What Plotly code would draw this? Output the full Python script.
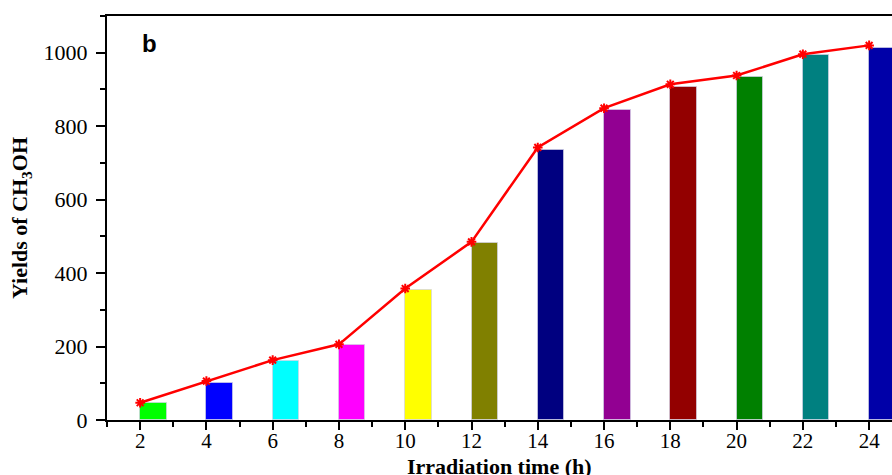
import plotly.graph_objects as go

hours = [2, 4, 6, 8, 10, 12, 14, 16, 18, 20, 22, 24]
bar_yield = [45, 102, 160, 204, 353, 482, 736, 844, 908, 933, 994, 1014]
line_yield = [47, 106, 163, 206, 358, 485, 742, 849, 914, 938, 996, 1020]
bar_colors = ["#00ff00", "#0000ff", "#00ffff", "#ff00ff", "#ffff00", "#808000",
              "#000080", "#920092", "#930000", "#008000", "#008080", "#0000a8"]
y_ticks = [0, 200, 400, 600, 800, 1000]
x_ticks = hours

serif = "Liberation Serif, Times New Roman, serif"

fig = go.Figure()
fig.add_trace(go.Bar(
    x=hours, y=bar_yield, width=0.8, offset=0,
    marker=dict(color=bar_colors, line=dict(color="rgba(210,210,230,0.7)", width=1)),
    showlegend=False,
))
fig.add_trace(go.Scatter(
    x=hours, y=line_yield, mode="lines+markers",
    line=dict(color="#ff0000", width=2.5),
    marker=dict(symbol="asterisk-open", size=8, color="#ff0000",
                line=dict(color="#ff0000", width=2)),
    showlegend=False, cliponaxis=False,
))

fig.update_layout(
    width=892, height=475,
    margin=dict(l=107, r=0, t=16, b=55, autoexpand=False),
    plot_bgcolor="white", paper_bgcolor="white",
    bargap=0,
    annotations=[
        dict(text="<b>b</b>", x=0.042, y=0.933, xref="paper", yref="paper",
             xanchor="left", yanchor="middle", showarrow=False,
             font=dict(family="Liberation Sans, Arial", size=24, color="black")),
        dict(text="<b>Irradiation time (h)</b>", x=0.5, y=-0.079, xref="paper", yref="paper",
             xanchor="center", yanchor="top", showarrow=False,
             font=dict(family=serif, size=22, color="black")),
    ],
)
fig.update_xaxes(
    range=[1.0, 24.69], tickvals=x_ticks, ticktext=[str(v) for v in x_ticks],
    showline=True, linecolor="black", linewidth=2, mirror=True,
    ticks="outside", ticklen=8, tickwidth=2, tickcolor="black",
    minor=dict(dtick=1, tick0=1, ticks="outside", ticklen=5, tickwidth=2, tickcolor="black"),
    showgrid=False, zeroline=False, automargin=False, ticklabelstandoff=-7,
    tickfont=dict(family=serif, size=21, color="black"),
)
fig.update_yaxes(
    range=[0, 1100], tickvals=y_ticks, ticktext=[str(v) for v in y_ticks],
    showline=True, linecolor="black", linewidth=2,
    ticks="outside", ticklen=9, tickwidth=2, tickcolor="black",
    minor=dict(dtick=100, ticks="outside", ticklen=5, tickwidth=2, tickcolor="black"),
    showgrid=False, zeroline=False, automargin=False, ticklabelstandoff=4,
    tickfont=dict(family=serif, size=22, color="black"),
    title=dict(text="<b>Yields of CH<sub>3</sub>OH</b>", standoff=10,
               font=dict(family=serif, size=22, color="black")),
)

fig.write_html("out.html")
